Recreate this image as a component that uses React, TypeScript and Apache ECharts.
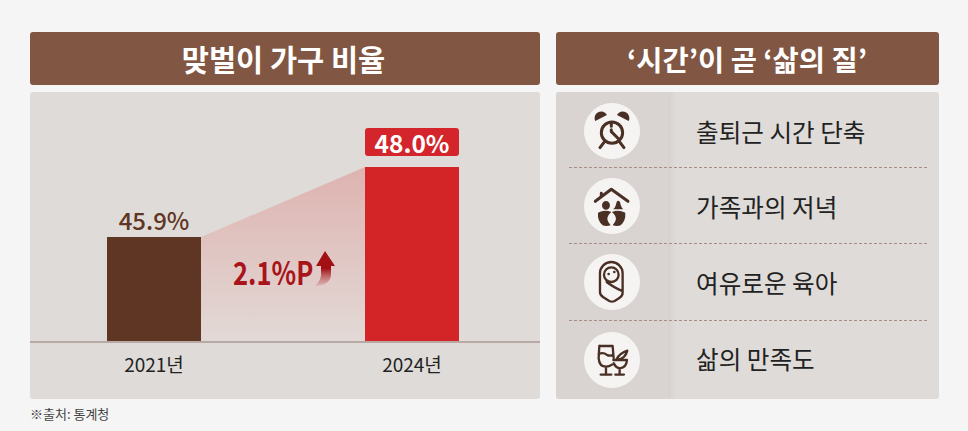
import React, { useEffect, useRef } from "react";
import * as echarts from "echarts";

const categories = ["2021년", "2024년"];
const values = [45.9, 48.0];
const valueLabels = ["45.9%", "48.0%"];
const gapLabel = "2.1%P";
const leftTitle = "맞벌이 가구 비율";
const rightTitle = "‘시간’이 곧 ‘삶의 질’";
const benefits = ["출퇴근 시간 단축", "가족과의 저녁", "여유로운 육아", "삶의 만족도"];
const source = "※출처: 통계청";

const FONT = '"Noto Sans CJK KR", "Noto Sans", sans-serif';
const BROWN = "#5f3524";
const RED = "#d32527";
const HEADER = "#815743";
const PANEL = "#dfdbd8";
const ICON = "#4a2f25";
const AXIS_MIN = 42.78;
const AXIS_MAX = 50.01;
const BAR_WIDTH = 94;

const reg = (name: string, d: string) =>
  echarts.graphic.registerShape(name, echarts.graphic.extendPath(d, {}) as any);

reg(
  "clockS",
  "M122 95A32 32 0 1 1 58 95A32 32 0 1 1 122 95M66 124L54 140M114 124L126 140M88 68L88 76M88 86L88 92L108 112"
);
reg("clockF", "M40 60A19 19 0 0 1 75 42ZM105 42A19 19 0 0 1 140 60Z");
reg("houseS", "M40 76L88 40L138 76M58 52L58 62");
reg(
  "houseF",
  "M60 88A11 12 0 1 1 84 88A11 12 0 1 1 60 88ZM94 100Q100 96 104 78Q108 70 114 78Q118 96 124 100ZM48 110Q68 100 88 108Q76 118 76 130Q78 140 86 148Q72 152 62 148Q46 134 48 110ZM130 110Q110 100 90 108Q102 118 102 130Q100 140 92 148Q106 152 116 148Q132 134 130 110Z"
);
reg(
  "babyS",
  "M54 64A34 34 0 0 1 122 64L122 122Q122 132 112 138L98 147Q90 151 82 147L64 136Q54 130 54 120ZM66 68A22 22 0 1 1 110 68A22 22 0 1 1 66 68M74 90Q92 104 122 118"
);
reg("babyF", "M76 66A4 4 0 1 1 84 66A4 4 0 1 1 76 66ZM93 60A4 4 0 1 1 101 60A4 4 0 1 1 93 60Z");
reg(
  "wineS",
  "M53 48L92 48L95 84M52 48L50 85Q52 110 72 110Q82 110 90 104M50 72Q64 66 74 74Q84 80 94 74M72 110L72 133M56 134L88 134M94 90L135 90Q134 112 113 115Q100 112 95 100M113 115L113 133M100 134L126 134M104 88Q112 70 136 62Q130 84 112 88"
);
reg("arrowUp", "M325 251L335 266L331 266L331 274Q331 285 315 286Q322 280 321 272L321 266L316 266Z");

const iconCentres = [131, 206, 282, 360];
const dashYs = [167.5, 243.5, 320.5];
const textYs = [130.5, 206, 282, 357.5];
const iconShapes: [string, boolean, number][][] = [
  [["clockS", false, 9], ["clockF", true, 0]],
  [["houseS", false, 9], ["houseF", true, 0]],
  [["babyS", false, 7], ["babyF", true, 0]],
  [["wineS", false, 7]],
];

function buildGraphic() {
  const els: any[] = [];
  const rect = (x: number, y: number, width: number, height: number, fill: any, r = 3, z = 0) =>
    els.push({ type: "rect", z, silent: true, shape: { x, y, width, height, r }, style: { fill } });
  const text = (t: string, x: number, y: number, font: string, fill: string, align = "center", z = 20, scaleX = 1) =>
    els.push({
      type: "text",
      z,
      x,
      y,
      scaleX,
      style: { text: t, font, fill, textAlign: align, textVerticalAlign: "middle" },
    });

  rect(30, 32, 510, 53, HEADER);
  rect(556, 32, 383, 53, HEADER);
  rect(30, 92, 510, 307, PANEL);
  rect(556, 92, 383, 307, PANEL);
  rect(556, 92, 112, 307, "#d9d4d1");
  rect(
    668,
    92,
    8,
    307,
    new echarts.graphic.LinearGradient(0, 0, 1, 0, [
      { offset: 0, color: "#d6d1ce" },
      { offset: 1, color: "#dfdbd8" },
    ]),
    0
  );

  text(leftTitle, 283.5, 58, `700 29.5px ${FONT}`, "#ffffff");
  text(rightTitle, 747, 58, `700 28.5px ${FONT}`, "#ffffff");

  dashYs.forEach((y) =>
    els.push({
      type: "line",
      z: 1,
      silent: true,
      shape: { x1: 569, y1: y, x2: 927, y2: y },
      style: { stroke: "#a98c84", lineWidth: 1, lineDash: [3, 2] },
    })
  );

  iconCentres.forEach((cy, i) => {
    els.push({
      type: "circle",
      z: 2,
      silent: true,
      shape: { cx: 612, cy, r: 28 },
      style: { fill: "#f5f4f3" },
    });
    iconShapes[i].forEach(([name, filled, lw]) =>
      els.push({
        type: name,
        z: 3,
        silent: true,
        x: 582,
        y: cy - 30,
        scaleX: 1 / 3,
        scaleY: 1 / 3,
        style: filled
          ? { fill: ICON }
          : { fill: "none", stroke: ICON, lineWidth: lw, lineCap: "round", lineJoin: "round" },
      })
    );
    text(benefits[i], 696, textYs[i], `400 24.6px ${FONT}`, "#222222", "left");
  });

  rect(30, 341, 510, 2, "#b9a9a4", 0, 20);
  text(gapLabel, 233, 271, `700 32px ${FONT}`, "#a8141a", "left", 20, 0.8);
  els.push({
    type: "arrowUp",
    z: 20,
    silent: true,
    x: 0,
    y: 0,
    style: {
      fill: new echarts.graphic.LinearGradient(0, 0, 0, 1, [
        { offset: 0, color: "#a01014" },
        { offset: 0.5, color: "#a01014" },
        { offset: 1, color: "rgba(190,90,90,0.2)" },
      ]),
    },
  });
  text(source, 30, 413, `400 13px ${FONT}`, "#444444", "left");
  return els;
}

export default function App() {
  const ref = useRef<HTMLDivElement>(null);
  useEffect(() => {
    document.body.style.margin = "0";
    document.body.style.background = "#f5f5f5";
    const chart = echarts.init(ref.current!, undefined, { renderer: "svg" });
    chart.setOption({
      animation: false,
      backgroundColor: "#f5f5f5",
      textStyle: { fontFamily: FONT },
      grid: { left: 25, width: 516, top: 100, height: 241 },
      xAxis: {
        type: "category",
        data: categories,
        axisLine: { show: false },
        axisTick: { show: false },
        axisLabel: { color: "#222222", fontSize: 19, fontFamily: FONT, margin: 13 },
      },
      yAxis: { type: "value", min: AXIS_MIN, max: AXIS_MAX, show: false, splitLine: { show: false } },
      graphic: { elements: buildGraphic() },
      series: [
        {
          type: "custom",
          z: 1,
          silent: true,
          clip: false,
          encode: { x: [0, 2], y: [1, 3] },
          data: [[0, values[0], 1, values[1]]],
          renderItem: (_p: any, api: any) => {
            const a = api.coord([api.value(0), api.value(1)]);
            const b = api.coord([api.value(2), api.value(3)]);
            const base = api.coord([0, AXIS_MIN])[1];
            const x1 = a[0] + BAR_WIDTH / 2;
            const x2 = b[0] - BAR_WIDTH / 2;
            return {
              type: "polygon",
              shape: { points: [[x1, a[1]], [x2, b[1]], [x2, base], [x1, base]] },
              style: {
                fill: new echarts.graphic.LinearGradient(0, 0, 0, 1, [
                  { offset: 0, color: "#deb3b0" },
                  { offset: 1, color: "#e2d9d6" },
                ]),
              },
            };
          },
        },
        {
          type: "bar",
          z: 2,
          barWidth: BAR_WIDTH,
          silent: true,
          data: [
            {
              value: values[0],
              itemStyle: { color: BROWN },
              label: {
                show: true,
                position: "top",
                distance: 6,
                formatter: valueLabels[0],
                color: BROWN,
                fontSize: 24,
                fontWeight: 500,
                fontFamily: FONT,
              },
            },
            {
              value: values[1],
              itemStyle: { color: RED },
              label: {
                show: true,
                position: "top",
                distance: 11,
                formatter: valueLabels[1],
                color: "#ffffff",
                fontSize: 24.5,
                fontWeight: 700,
                fontFamily: FONT,
                backgroundColor: "#d3252b",
                borderRadius: 3,
                width: BAR_WIDTH,
                height: 28,
                lineHeight: 28,
                align: "center",
              },
            },
          ],
        },
      ],
    });
    return () => chart.dispose();
  }, []);
  return <div ref={ref} style={{ position: "absolute", left: 0, top: 0, width: 968, height: 431 }} />;
}
